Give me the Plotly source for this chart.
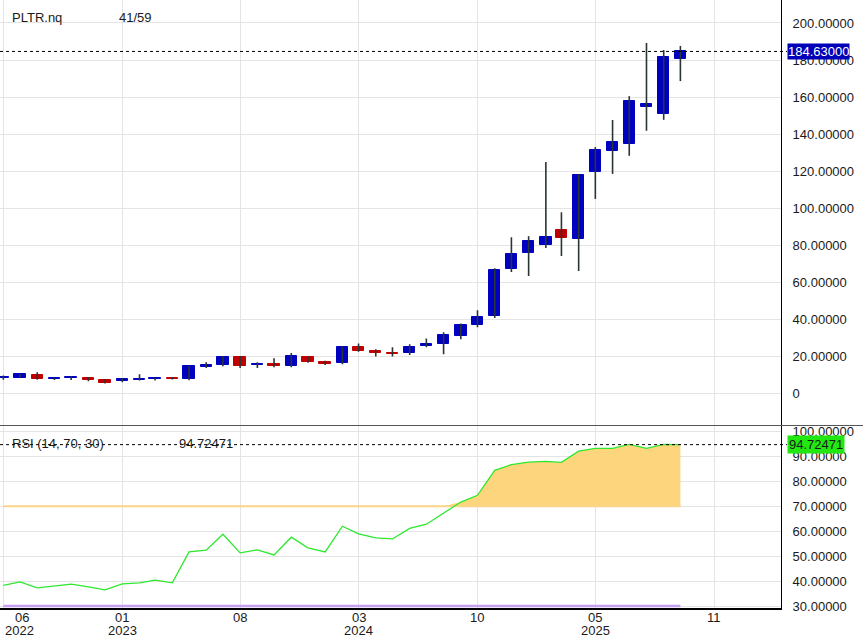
import pandas as pd
import plotly.graph_objects as go

# ---------------- data ----------------
months = pd.date_range("2022-06-01", periods=41, freq="MS")
opens = [8.1, 8.6, 9.7, 7.7, 8.3, 8.6, 7.0, 6.5, 7.3, 7.6, 8.1, 7.6, 14.1, 15.3, 19.5, 15.3, 15.7, 14.6, 19.5, 16.8,
         16.4, 24.9, 22.7, 21.8, 21.6, 25.4, 26.6, 31.0, 36.9, 41.8, 67.2, 75.8, 80.2, 88.1, 83.4, 119.6, 131.0, 134.8,
         154.8, 151.0, 180.5]
closes = [8.9, 10.3, 7.6, 8.1, 8.7, 7.2, 5.9, 7.7, 7.6, 8.1, 7.6, 14.6, 15.2, 19.5, 14.8, 16.0, 14.6, 20.0, 16.8, 15.7,
          24.9, 22.7, 21.6, 21.3, 24.9, 26.5, 31.4, 36.8, 41.1, 66.5, 75.1, 82.2, 84.3, 83.9, 117.8, 131.4, 135.7, 157.8,
          156.2, 181.6, 184.63]
highs = [9.7, 10.5, 11.4, 8.4, 9.1, 8.8, 7.6, 8.2, 10.4, 8.5, 8.7, 14.8, 16.8, 20.2, 20.2, 16.8, 19.0, 21.8, 20.0, 17.7,
         25.4, 27.0, 23.8, 24.9, 26.5, 29.7, 33.0, 37.8, 44.9, 67.6, 84.3, 84.9, 124.9, 97.8, 118.4, 133.0, 147.6, 160.5,
         189.2, 185.4, 187.6]
lows = [7.4, 8.5, 7.4, 7.3, 7.3, 6.6, 5.4, 6.0, 7.0, 7.0, 7.5, 7.1, 13.7, 14.7, 13.7, 13.7, 14.1, 14.1, 16.6, 15.3,
        15.8, 22.5, 20.0, 20.0, 20.7, 24.9, 21.1, 29.2, 35.8, 40.7, 65.6, 63.4, 78.5, 74.2, 66.1, 105.0, 118.5, 128.3,
        141.8, 147.7, 168.6]
rsi = [38.3, 39.7, 37.3, 38.0, 38.8, 37.7, 36.5, 38.9, 39.3, 40.4, 39.3, 51.7, 52.4, 58.8, 51.3, 52.5, 50.5, 57.6,
       53.3, 51.7, 62.0, 58.9, 57.3, 56.9, 61.1, 62.8, 67.1, 71.7, 74.4, 84.4, 86.7, 87.7, 88.0, 87.6, 92.1, 93.2,
       93.2, 94.8, 93.2, 94.8, 94.72471]
rsi_upper = 70
rsi_lower = 30
last_price = 184.63
last_rsi = 94.72471

price_ticks = [0, 20, 40, 60, 80, 100, 120, 140, 160, 180, 200]
rsi_ticks = [30, 40, 50, 60, 70, 80, 90, 100]
x_tickvals = ["2022-06-01", "2023-01-01", "2023-08-01", "2024-03-01", "2024-10-01", "2025-05-01", "2025-12-01"]
x_tick_month = ["06", "01", "08", "03", "10", "05", "11"]
x_tick_year = ["2022", "2023", "", "2024", "", "2025", ""]

# ---------------- styling ----------------
UP = "#0000c0"
DOWN = "#c00000"
WICK = "#2b3535"
GRID = "#e4e4e4"
FONT = "Liberation Sans, Arial, sans-serif"
TXT = "#1a1a1a"
W, H = 863, 638
ML, MR, MT, MB = 0, 82, 0, 30
PW = W - ML - MR
PH = H - MT - MB
split = (PH - 425.5) / PH

fig = go.Figure()

# wicks
wx, wy = [], []
for d, lo, hi in zip(months, lows, highs):
    wx += [d, d, None]
    wy += [lo, hi, None]
fig.add_trace(go.Scatter(x=wx, y=wy, mode="lines", line=dict(color=WICK, width=1.6),
                         hoverinfo="skip", showlegend=False, xaxis="x", yaxis="y"))
# bodies
base = [min(o, c) for o, c in zip(opens, closes)]
height = [max(abs(c - o), 0.35) for o, c in zip(opens, closes)]
colors = [UP if c >= o else DOWN for o, c in zip(opens, closes)]
fig.add_trace(go.Bar(x=months, y=height, base=base, width=20.5 * 86400000,
                     marker=dict(color=colors, line=dict(color=colors, width=1)),
                     hoverinfo="skip", showlegend=False, xaxis="x", yaxis="y"))

# RSI panel
n = len(months)
fig.add_trace(go.Scatter(x=months, y=[rsi_lower] * n, mode="lines", line=dict(color="#c59ff0", width=2.5),
                         hoverinfo="skip", showlegend=False, xaxis="x2", yaxis="y2"))
fig.add_trace(go.Scatter(x=months, y=[rsi_upper] * n, mode="lines", line=dict(color="#fbd48a", width=2),
                         hoverinfo="skip", showlegend=False, xaxis="x2", yaxis="y2"))
fig.add_trace(go.Scatter(x=months, y=[max(v, rsi_upper) for v in rsi], mode="lines", line=dict(width=0),
                         fill="tonexty", fillcolor="#fcd57c",
                         hoverinfo="skip", showlegend=False, xaxis="x2", yaxis="y2"))
fig.add_trace(go.Scatter(x=months, y=rsi, mode="lines", line=dict(color="#2ee82e", width=1.3),
                         hoverinfo="skip", showlegend=False, xaxis="x2", yaxis="y2"))

xrange = ["2022-05-26", "2026-03-31"]
common_x = dict(range=xrange, type="date", showgrid=True, gridcolor=GRID, gridwidth=1,
                tickvals=x_tickvals, ticktext=[""] * len(x_tickvals), zeroline=False, ticks="")

fig.update_layout(
    width=W, height=H,
    margin=dict(l=ML, r=MR, t=MT, b=MB, pad=0, autoexpand=False),
    paper_bgcolor="white", plot_bgcolor="white",
    font=dict(family=FONT, size=13, color=TXT),
    bargap=0,
    xaxis=dict(**common_x, domain=[0, 1], anchor="y", matches="x2", showticklabels=False),
    xaxis2=dict(**common_x, domain=[0, 1], anchor="y2", showticklabels=False,
                showline=True, linecolor="black", linewidth=1.5),
    yaxis=dict(domain=[split, 1], anchor="x", side="right", range=[-17.3, 212.4],
               tickvals=price_ticks, ticktext=["0"] + ["%.5f" % v for v in price_ticks[1:]],
               showgrid=True, gridcolor=GRID, zeroline=False, showline=True, linecolor="black", linewidth=1,
               ticks="outside", ticklen=8, tickcolor="rgba(0,0,0,0)",
               tickfont=dict(family=FONT, size=13, color=TXT)),
    yaxis2=dict(domain=[0, split], anchor="x2", side="right", range=[29.2, 102.4],
                tickvals=rsi_ticks, ticktext=["%.5f" % v for v in rsi_ticks],
                showgrid=True, gridcolor=GRID, zeroline=False, showline=True, linecolor="black", linewidth=1,
                ticks="outside", ticklen=8, tickcolor="rgba(0,0,0,0)",
                tickfont=dict(family=FONT, size=13, color=TXT)),
    showlegend=False,
)

def px_x(p):
    return p / PW

def px_y(p):
    return (PH - p) / PH

shapes = [
    dict(type="line", xref="paper", yref="paper", x0=0, x1=W / PW, y0=split, y1=split,
         line=dict(color="#555555", width=1)),
    dict(type="line", xref="paper", yref="y", x0=0, x1=px_x(787), y0=last_price, y1=last_price,
         line=dict(color="black", width=1, dash="3px,3px")),
    dict(type="line", xref="paper", yref="y2", x0=0, x1=px_x(787), y0=last_rsi, y1=last_rsi,
         line=dict(color="black", width=1, dash="3px,3px")),
]
fig.update_layout(shapes=shapes)

def txt(text, **kw):
    d = dict(text=text, showarrow=False, font=dict(family=FONT, size=13, color=TXT))
    d.update(kw)
    return d

annotations = [
    txt("PLTR.nq", xref="paper", yref="paper", x=px_x(10), y=px_y(18), xanchor="left", yanchor="middle"),
    txt("41/59", xref="paper", yref="paper", x=px_x(117), y=px_y(18), xanchor="left", yanchor="middle"),
    txt("RSI (14, 70, 30)", xref="paper", yref="paper", x=px_x(10), y=px_y(443.5), xanchor="left", yanchor="middle"),
    txt("%.5f" % last_rsi, xref="paper", yref="paper", x=px_x(177), y=px_y(443.5), xanchor="left", yanchor="middle"),
]
# x-axis labels (month line and year line)
for i, (d, m, yr) in enumerate(zip(x_tickvals, x_tick_month, x_tick_year)):
    if i == 0:
        # first label is pushed inside the plot edge
        annotations.append(txt(m, xref="x2", yref="paper", x=d, y=px_y(617.5), xanchor="center",
                               yanchor="middle", xshift=18.4))
        annotations.append(txt(yr, xref="x2", yref="paper", x=d, y=px_y(630.5), xanchor="left",
                               yanchor="middle", xshift=0))
    else:
        annotations.append(txt(m, xref="x2", yref="paper", x=d, y=px_y(617.5), xanchor="center",
                               yanchor="middle"))
        if yr:
            annotations.append(txt(yr, xref="x2", yref="paper", x=d, y=px_y(630.5), xanchor="center",
                                   yanchor="middle"))

annotations.append(txt("%.5f" % last_price, xref="paper", yref="y", x=px_x(787), y=last_price,
                       xanchor="left", yanchor="middle", bgcolor="#0000b8", borderpad=0,
                       font=dict(family=FONT, size=13, color="white")))
annotations.append(txt("%.5f" % last_rsi, xref="paper", yref="y2", x=px_x(787), y=last_rsi,
                       xanchor="left", yanchor="middle", bgcolor="#22e812", borderpad=1))
fig.update_layout(annotations=annotations)

fig.write_html("out.html", config={"displayModeBar": False},
               post_script="document.body.style.margin='0';document.body.style.overflow='hidden';")
